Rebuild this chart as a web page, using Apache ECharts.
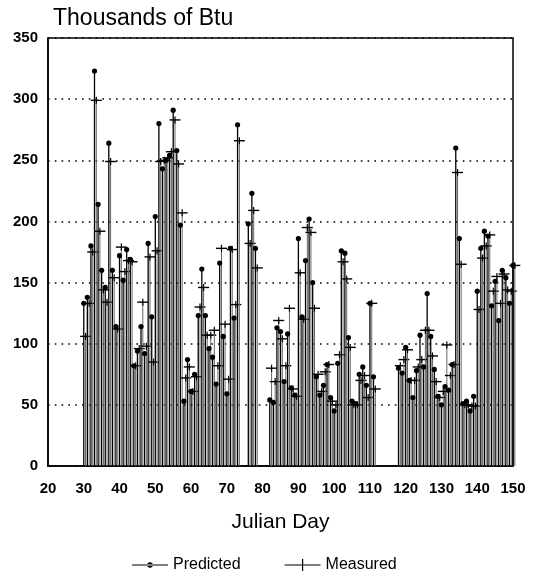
<!DOCTYPE html>
<html>
<head>
<meta charset="utf-8">
<script src="https://cdn.jsdelivr.net/npm/echarts@6/dist/echarts.min.js"></script>
<style>
html,body{margin:0;padding:0;background:#fff;}
#chart{width:548px;height:583px;}
</style>
</head>
<body>
<div id="chart"></div>
<script>
// Julian days with data
var days = [
  30,31,32,33,34,35,36,37,38,39,40,41,42,43,44,45,46,47,48,49,
  50,51,52,53,54,55,56,57,58,59,60,61,62,63,64,65,66,67,68,69,
  70,71,72,73,76,77,78,
  82,83,84,85,86,87,88,89,90,91,92,93,94,95,96,97,98,99,100,101,
  102,103,104,105,106,107,108,109,110,111,
  118,119,120,121,122,123,124,125,126,127,128,129,130,131,132,133,134,135,136,137,
  138,139,140,141,142,143,144,145,146,147,148,149,150
];
// Predicted (thousands of Btu)
var predicted = [
  133,138,180,323,214,160,146,264,160,114,172,152,177,169,82,94,114,92,182,122,
  204,280,243,250,254,291,258,197,53,87,61,75,123,161,123,96,89,67,166,106,
  59,178,121,279,198,223,178,
  54,52,113,110,69,108,64,58,186,122,168,202,150,73,58,66,83,56,45,84,
  176,174,105,53,51,75,81,66,133,73,
  80,76,97,70,56,78,107,81,141,106,79,57,50,65,62,83,260,186,51,53,
  45,57,143,178,192,188,131,151,119,160,154,133,164
];
// Measured (thousands of Btu)
var measured = [
  106,133,175,299,192,144,134,249,154,112,179,159,168,167,82,96,134,98,171,85,
  176,249,250,252,257,283,247,207,72,81,61,73,130,146,107,107,111,82,178,116,
  71,177,132,266,182,209,162,
  80,69,119,104,82,129,63,57,158,120,195,191,129,75,61,77,83,53,50,91,
  167,153,97,50,50,70,74,56,133,63,
  82,87,95,70,70,81,87,111,111,90,69,56,61,99,74,83,240,165,50,50,
  49,49,128,170,180,189,143,155,133,157,144,143,164
];
var yTicks = [0,50,100,150,200,250,300,350];
var xTicks = [20,30,40,50,60,70,80,90,100,110,120,130,140,150];

var predData = days.map(function(d,i){return [d, predicted[i]];});
var measData = days.map(function(d,i){return [d, measured[i]];});

var FONT = '"Liberation Sans", Arial, Helvetica, sans-serif';
var chart = echarts.init(document.getElementById('chart'), null, {renderer:'canvas'});

var option = {
  animation: false,
  backgroundColor: '#fff',
  title: {
    text: 'Thousands of Btu',
    left: 48, top: 2,
    textStyle: {fontFamily: FONT, fontSize: 23, fontWeight: 'normal', color: '#000'}
  },
  grid: {
    left: 48, right: 35, top: 38, bottom: 117,
    show: true, borderColor: '#000', borderWidth: 1.5, backgroundColor: 'transparent'
  },
  legend: {
    bottom: 5, left: 127,
    itemWidth: 36, itemHeight: 12, itemGap: 44,
    textStyle: {fontFamily: FONT, fontSize: 16, color: '#000'},
    data: [
      {name: 'Predicted', icon: 'path://M0,5.5 L36,5.5 L36,6.5 L0,6.5 Z M15.2,6 A2.8,2.8 0 1 0 20.8,6 A2.8,2.8 0 1 0 15.2,6 Z M18,0 L18.05,0 L18,0.05 Z M18,12 L18.05,12 L18,11.95 Z', itemStyle:{color:'#000'}},
      {name: 'Measured', icon: 'path://M0,5.4 L36,5.4 L36,6.6 L0,6.6 Z M17.4,0 L18.6,0 L18.6,12 L17.4,12 Z', itemStyle:{color:'#000'}}
    ]
  },
  xAxis: {
    type: 'value', min: xTicks[0], max: xTicks[xTicks.length-1], interval: 10,
    name: 'Julian Day', nameLocation: 'middle', nameGap: 46,
    nameTextStyle: {fontFamily: FONT, fontSize: 21, color: '#000'},
    axisLine: {show: true, lineStyle: {color: '#000', width: 1.5}},
    axisTick: {show: false},
    splitLine: {show: false},
    axisLabel: {margin: 15, fontFamily: FONT, fontSize: 15, fontWeight: 'bold', color: '#000'}
  },
  yAxis: {
    type: 'value', min: yTicks[0], max: yTicks[yTicks.length-1], interval: 50,
    axisLine: {show: true, lineStyle: {color: '#000', width: 1.5}},
    axisTick: {show: false},
    splitLine: {show: true, lineStyle: {color: '#000', width: 1.6, type: [1.6, 5.2]}},
    axisLabel: {margin: 10, fontFamily: FONT, fontSize: 15, fontWeight: 'bold', color: '#000'}
  },
  series: [
    {
      name: 'Measured', type: 'custom', z: 2,
      itemStyle: {color: '#000'},
      data: measData,
      encode: {x: 0, y: 1},
      renderItem: function (params, api) {
        var top = api.coord([api.value(0), api.value(1)]);
        var base = api.coord([api.value(0), 0]);
        var px = top[0] + 1.8;
        return {type: 'group', children: [
          {type: 'line', shape: {x1: px, y1: base[1], x2: px, y2: top[1]}, style: {stroke: '#666', lineWidth: 1}},
          {type: 'line', shape: {x1: px - 5.5, y1: top[1], x2: px + 5.5, y2: top[1]}, style: {stroke: '#000', lineWidth: 1.4}},
          {type: 'line', shape: {x1: px, y1: top[1] - 3.5, x2: px, y2: top[1] + 3.5}, style: {stroke: '#000', lineWidth: 1.2}}
        ]};
      }
    },
    {
      name: 'Predicted', type: 'custom', z: 3,
      itemStyle: {color: '#000'},
      data: predData,
      encode: {x: 0, y: 1},
      renderItem: function (params, api) {
        var top = api.coord([api.value(0), api.value(1)]);
        var base = api.coord([api.value(0), 0]);
        return {type: 'group', children: [
          {type: 'line', shape: {x1: top[0], y1: base[1], x2: top[0], y2: top[1]}, style: {stroke: '#000', lineWidth: 1.3}},
          {type: 'circle', shape: {cx: top[0], cy: top[1], r: 2.6}, style: {fill: '#000'}}
        ]};
      }
    }
  ]
};
chart.setOption(option);
</script>
</body>
</html>
